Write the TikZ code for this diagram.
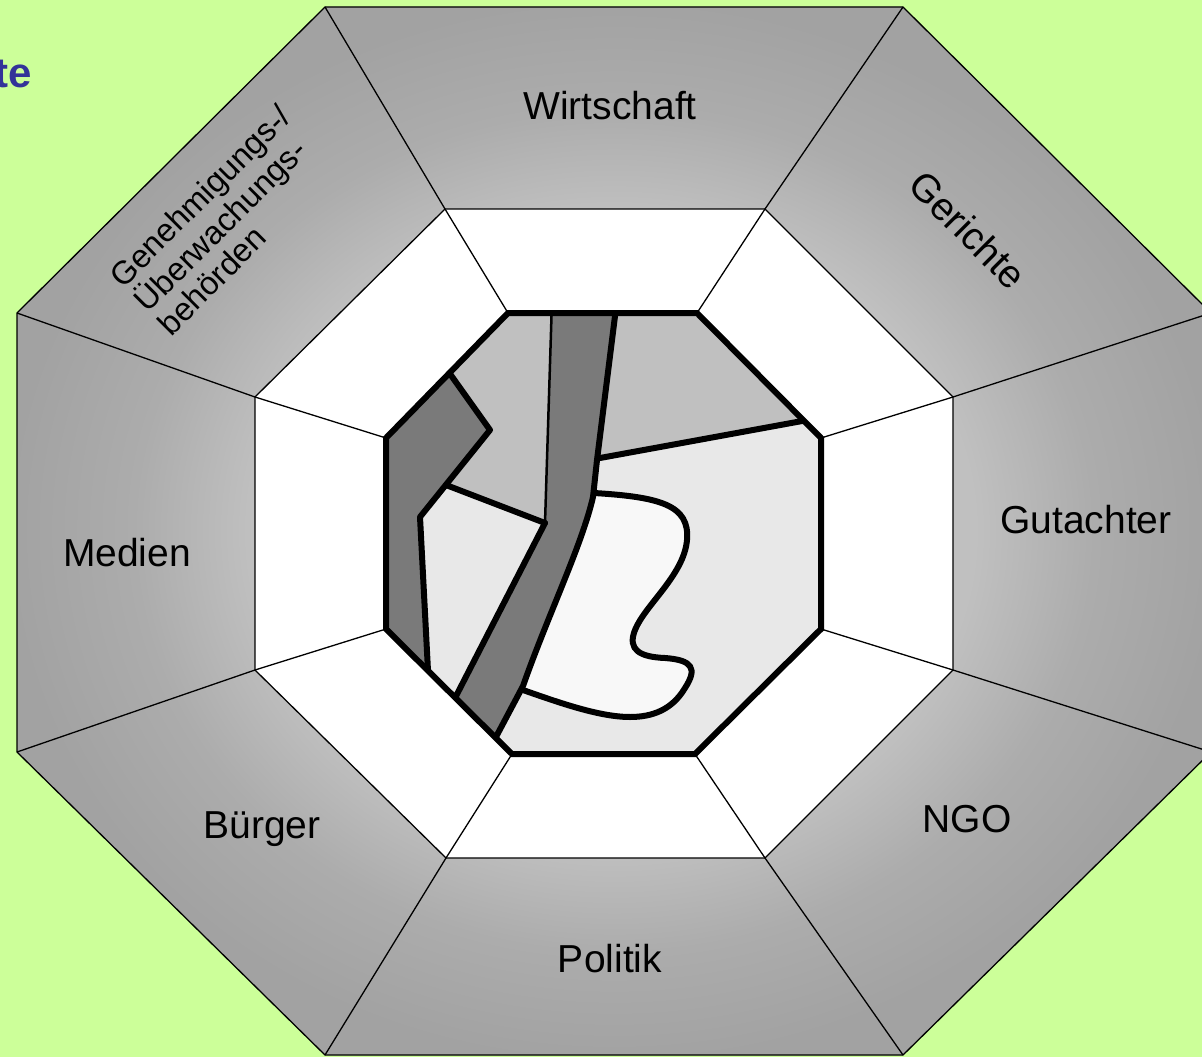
\documentclass[tikz,border=0pt]{standalone}
\usepackage{fontspec}
\setmainfont{Liberation Sans}
\definecolor{bgc}{HTML}{CCFF99}
\definecolor{titlec}{HTML}{333399}
\definecolor{ringlight}{HTML}{C0C0C0}
\definecolor{ringmid}{HTML}{ACACAC}
\definecolor{ringdark}{HTML}{A2A2A2}
\definecolor{uppergray}{HTML}{C0C0C0}
\definecolor{bandgray}{HTML}{7A7A7A}
\definecolor{lowgray}{HTML}{E8E8E8}
\definecolor{blobgray}{HTML}{F8F8F8}
\pgfdeclareradialshading{ringshade}{\pgfpoint{0bp}{0bp}}{color(0bp)=(ringlight); color(315bp)=(ringlight); color(420bp)=(ringmid); color(530bp)=(ringdark); color(700bp)=(ringdark)}
\begin{document}
\begin{tikzpicture}[x=1pt,y=-1pt,
  thinline/.style={line width=1.3pt,line join=miter},
  thickline/.style={line width=6pt,line join=round,line cap=round},
  midline/.style={line width=2.5pt},
  lbl/.style={font=\fontsize{39}{40}\selectfont,inner sep=0pt}]
\useasboundingbox (0,0) rectangle (1202,1057);
\clip (0,0) rectangle (1202,1057);
\fill[bgc] (0,0) rectangle (1202,1057);
% outer octagon
\coordinate (o1) at (325,7);
\coordinate (o2) at (903,7);
\coordinate (o3) at (1211,313);
\coordinate (o4) at (1211,752);
\coordinate (o5) at (903,1055);
\coordinate (o6) at (325,1055);
\coordinate (o7) at (17,752);
\coordinate (o8) at (17,313);
% middle octagon
\coordinate (m1) at (445,209);
\coordinate (m2) at (765,209);
\coordinate (m3) at (953,397);
\coordinate (m4) at (953,670);
\coordinate (m5) at (765,858);
\coordinate (m6) at (446,858);
\coordinate (m7) at (255,670);
\coordinate (m8) at (255,397);
% inner octagon
\coordinate (i1) at (508,313);
\coordinate (i2) at (697,313);
\coordinate (i3) at (821,438);
\coordinate (i4) at (821,629);
\coordinate (i5) at (695,754);
\coordinate (i6) at (512,754);
\coordinate (i7) at (386,629);
\coordinate (i8) at (386,438);

\fill[ringdark] (o1)--(o2)--(o3)--(o4)--(o5)--(o6)--(o7)--(o8)--cycle;
\begin{scope}
\clip (o1)--(o2)--(o3)--(o4)--(o5)--(o6)--(o7)--(o8)--cycle;
\pgftransformcm{1.14}{0}{0}{1}{\pgfpoint{614pt}{-531pt}}
\pgflowlevelsynccm
\pgfuseshading{ringshade}
\end{scope}
\draw[thinline] (o1)--(o2)--(o3)--(o4)--(o5)--(o6)--(o7)--(o8)--cycle;
\filldraw[fill=white,thinline] (m1)--(m2)--(m3)--(m4)--(m5)--(m6)--(m7)--(m8)--cycle;
\foreach \k in {1,...,8}{\draw[thinline] (o\k)--(m\k)--(i\k);}

% inner figure
\begin{scope}
\clip (i1)--(i2)--(i3)--(i4)--(i5)--(i6)--(i7)--(i8)--cycle;
\fill[lowgray] (370,300) rectangle (840,770);
% upper right light region
\coordinate (ur1) at (600,458);
\coordinate (ur2) at (835,415);
\fill[uppergray] (ur1)--(ur2)--(835,300)--(600,300)--cycle;
\draw[thickline] (ur1)--(ur2);
% upper left light region
\coordinate (tl) at (552,300);
\coordinate (tj) at (545,523);
\coordinate (lj) at (446,485);
\fill[uppergray] (tl)--(tj)--(lj)--(380,485)--(380,300)--cycle;
% white blob
\coordinate (b0) at (594,493);
\coordinate (b1) at (687,540);
\coordinate (b2) at (635,630);
\coordinate (b3) at (665,658);
\coordinate (b4) at (685,688);
\coordinate (b5) at (630,717);
\coordinate (b6) at (523,690);
\fill[blobgray] (b0) .. controls (660,497) and (690,505) .. (b1)
  .. controls (684,575) and (645,605) .. (b2)
  .. controls (627,650) and (640,657) .. (b3)
  .. controls (692,660) and (698,668) .. (b4)
  .. controls (672,710) and (652,717) .. (b5)
  .. controls (600,717) and (560,703) .. (b6) -- (545,560) -- cycle;
\draw[thickline] (b0) .. controls (660,497) and (690,505) .. (b1)
  .. controls (684,575) and (645,605) .. (b2)
  .. controls (627,650) and (640,657) .. (b3)
  .. controls (692,660) and (698,668) .. (b4)
  .. controls (672,710) and (652,717) .. (b5)
  .. controls (600,717) and (560,703) .. (b6);
% left dark band
\coordinate (lb1) at (438,357);
\coordinate (lb2) at (490,430);
\coordinate (lb3) at (420,517);
\coordinate (lb4) at (429,690);
\fill[bandgray] (lb1)--(lb2)--(lb3)--(lb4)--(360,690)--(360,357)--cycle;
\draw[thickline] (lb1)--(lb2)--(lb3)--(lb4);
% middle dark band
\coordinate (mb1) at (617,300);
\coordinate (mb2) at (597,460);
\coordinate (mb3) at (593,497);
\coordinate (mb4) at (523,686);
\coordinate (mb5) at (488,752);
\coordinate (mb6) at (436,735);
\fill[bandgray] (tl)--(mb1)--(mb2)--(mb3) .. controls (582,545) and (548,615) .. (mb4)
  --(mb5)--(mb6)--(tj)--cycle;
\draw[thickline] (mb1)--(mb2)--(mb3) .. controls (582,545) and (548,615) .. (mb4)--(mb5);
\draw[thickline] (tj)--(mb6);
\draw[midline] (tl)--(tj);
\draw[thickline] (lj)--(tj);
\end{scope}
\draw[line width=6pt,line join=miter] (i1)--(i2)--(i3)--(i4)--(i5)--(i6)--(i7)--(i8)--cycle;

% labels
\node[lbl,anchor=base] (wirt) at (610,119) {Wirtschaft};
\node[lbl,rotate=-45] (ger) at (968,230) {Gerichte};
\node[lbl,anchor=base] (gut) at (1086,533) {Gutachter};
\node[lbl,anchor=base] (ngo) at (967,832) {NGO};
\node[lbl,anchor=base] (pol) at (610,972) {Politik};
\node[lbl,anchor=base] (bue) at (262,838) {Bürger};
\node[lbl,anchor=base] (med) at (127,566) {Medien};
\node[inner sep=0pt,rotate=45,align=left,font=\fontsize{32.5}{33}\selectfont] (gen) at (224,220) {Genehmigungs-/\\Überwachungs-\\behörden};
\node[anchor=base east,inner sep=0pt,text=titlec,font=\fontsize{42}{44}\selectfont\bfseries] (ttl) at (32,88) {te};
\end{tikzpicture}
\end{document}
